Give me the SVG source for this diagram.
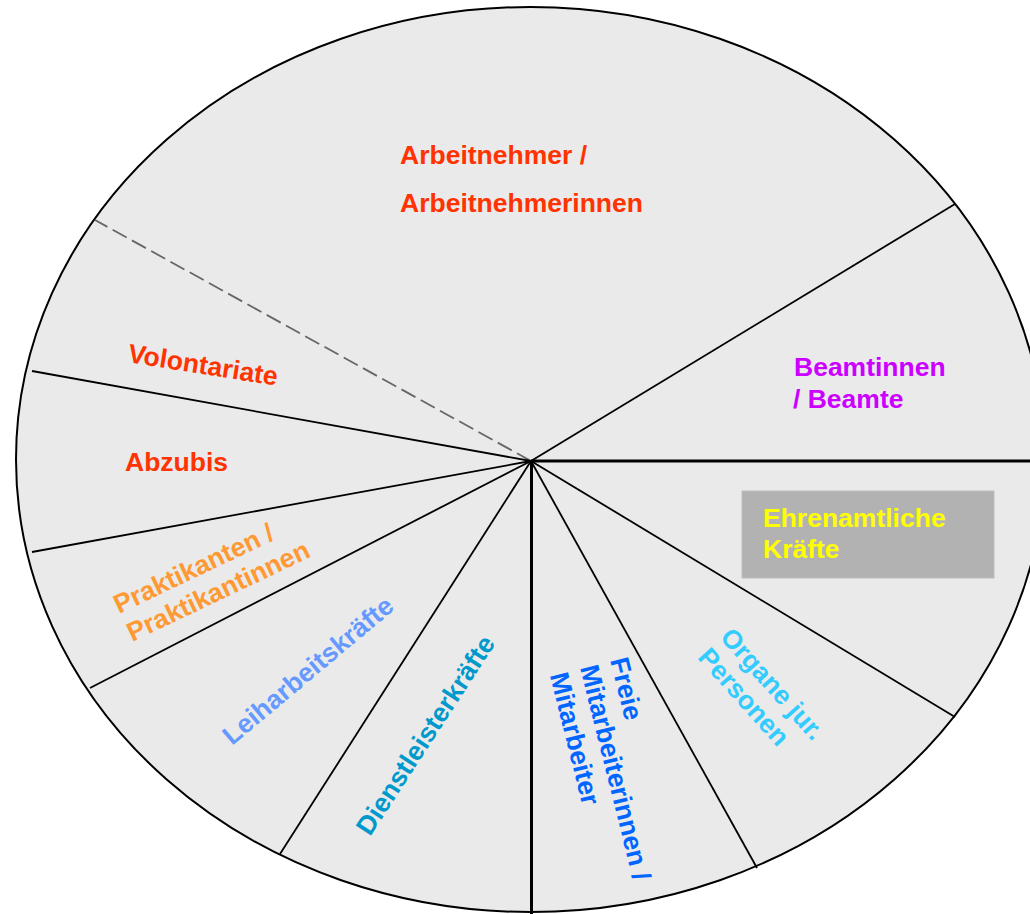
<svg xmlns="http://www.w3.org/2000/svg" width="1030" height="914" viewBox="0 0 1030 914">
<style>
.lbl{font-family:"Liberation Sans",Arial,sans-serif;font-weight:bold;font-size:26.5px}
.sp{stroke:#000;stroke-width:1.8;fill:none}
.thick{stroke:#000;stroke-width:3;fill:none}
</style>
<rect width="1030" height="914" fill="#fff"/>
<g id="pie">
<ellipse cx="530.5" cy="459.5" rx="514.5" ry="452.5" fill="#eaeaea" stroke="#000" stroke-width="2"/>
</g>
<g id="connectors">
<line x1="531" y1="461" x2="95" y2="220" stroke="#666" stroke-width="1.8" stroke-dasharray="16 6"/>
<line class="sp" x1="531" y1="461" x2="955" y2="204"/>
<line class="thick" x1="531" y1="461" x2="1030" y2="461"/>
<line class="sp" x1="531" y1="461" x2="955" y2="717"/>
<line class="sp" x1="531" y1="461" x2="757" y2="868"/>
<line class="thick" x1="531.5" y1="461" x2="531.5" y2="914"/>
<line class="sp" x1="531" y1="461" x2="280" y2="854"/>
<line class="sp" x1="531" y1="461" x2="90" y2="688"/>
<line class="sp" x1="531" y1="461" x2="32" y2="552"/>
<line class="sp" x1="531" y1="461" x2="32" y2="371"/>
</g>
<g id="arbeitnehmer">
<text class="lbl" fill="#ff3300"><tspan x="400" y="164">Arbeitnehmer /</tspan><tspan x="400" y="212">Arbeitnehmerinnen</tspan></text>
</g>
<g id="beamte">
<text class="lbl" fill="#cc00ff"><tspan x="794" y="376">Beamtinnen</tspan><tspan x="793" y="408">/ Beamte</tspan></text>
</g>
<g id="ehrenamtliche">
<rect x="742" y="491" width="252" height="87" fill="#b2b2b2" stroke="#bdbdbd" stroke-width="1"/>
<text class="lbl" fill="#ffff00"><tspan x="763" y="527">Ehrenamtliche</tspan><tspan x="763" y="558">Kräfte</tspan></text>
</g>
<g id="volontariate">
<text class="lbl" fill="#ff3300" transform="translate(127,362) rotate(9)">Volontariate</text>
</g>
<g id="azubis">
<text class="lbl" fill="#ff3300" x="125" y="471">Abzubis</text>
</g>
<g id="praktikanten">
<text class="lbl" fill="#ff9933" transform="translate(119,614) rotate(-25.5)"><tspan x="0" y="0">Praktikanten /</tspan><tspan x="0" y="31">Praktikantinnen</tspan></text>
</g>
<g id="leiharbeit">
<text class="lbl" fill="#6699ff" transform="translate(232,746) rotate(-40)">Leiharbeitskräfte</text>
</g>
<g id="dienstleister">
<text class="lbl" fill="#0099cc" transform="translate(370,837) rotate(-57)">Dienstleisterkräfte</text>
</g>
<g id="freie">
<text class="lbl" fill="#0066ff" transform="translate(610,660) rotate(76)"><tspan x="0" y="0">Freie</tspan><tspan x="0" y="31">Mitarbeiterinnen /</tspan><tspan x="0" y="62">Mitarbeiter</tspan></text>
</g>
<g id="organe">
<text class="lbl" fill="#33ccff" transform="translate(719,638) rotate(48)"><tspan x="0" y="0">Organe jur.</tspan><tspan x="0" y="30">Personen</tspan></text>
</g>
</svg>
